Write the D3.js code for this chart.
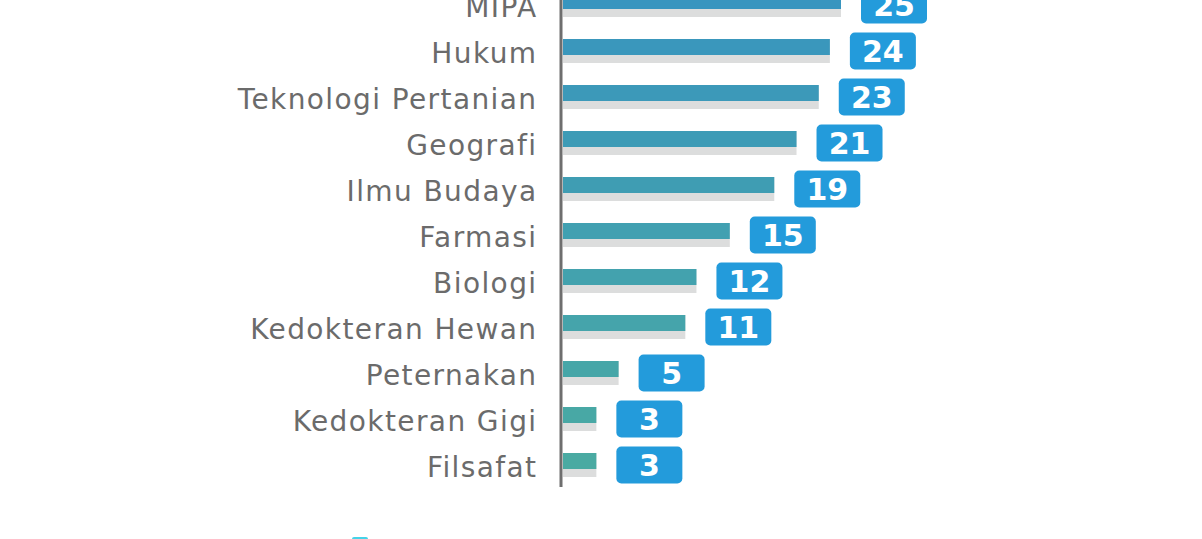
<!DOCTYPE html>
<html>
<head>
<meta charset="utf-8">
<script src="https://cdn.jsdelivr.net/npm/d3@7"></script>
<style>
  body { margin: 0; background: #fff; }
  svg { display: block; }
  .label { font-family: "DejaVu Sans", sans-serif; fill: #6b6b6b; letter-spacing: 1.4px; }
  .badgeText { font-family: "DejaVu Sans", sans-serif; font-weight: 700; fill: #fff; }
</style>
</head>
<body>
<div id="chart"></div>
<script>
// faculties, top to bottom (the top of the chart is cropped)
var faculties = ["MIPA", "Hukum", "Teknologi Pertanian", "Geografi", "Ilmu Budaya",
    "Farmasi", "Biologi", "Kedokteran Hewan", "Peternakan", "Kedokteran Gigi", "Filsafat"];
var counts = [25, 24, 23, 21, 19, 15, 12, 11, 5, 3, 3];

var width = 1202, height = 539;
var axisX = 561;

var svg = d3.select("#chart").append("svg")
    .attr("width", width)
    .attr("height", height);

// x scale: value -> pixel, bars start right of the axis line
var x = d3.scaleLinear().domain([0, 25]).range([563, 841]);

// y scale: one band per faculty, 46px per row, first row partly above the frame
var y = d3.scaleBand().domain(faculties).range([-7, -7 + faculties.length * 46]);

var barColor = d3.scaleLinear()
    .domain([0, faculties.length - 1])
    .range(["#3895bf", "#4aaaa2"])
    .interpolate(d3.interpolateRgb);

var rows = svg.selectAll("g.row")
    .data(faculties.map(function(f, i){ return {name: f, value: counts[i], i: i}; }))
    .enter().append("g")
    .attr("class", "row");

// gray shadow under each bar
rows.append("rect")
    .attr("x", x(0))
    .attr("y", function(d){ return y(d.name); })
    .attr("width", function(d){ return x(d.value) - x(0); })
    .attr("height", 24)
    .style("fill", "#dcdddd");

// main bar
rows.append("rect")
    .attr("x", x(0))
    .attr("y", function(d){ return y(d.name); })
    .attr("width", function(d){ return x(d.value) - x(0); })
    .attr("height", 16)
    .style("fill", function(d){ return barColor(d.i); });

// category labels (letter-spacing leaves a trailing gap, so nudge x right)
rows.append("text")
    .attr("class", "label")
    .attr("x", 537.5)
    .attr("y", function(d){ return y(d.name) + 24; })
    .attr("text-anchor", "end")
    .style("font-size", "28px")
    .text(function(d){ return d.name; });

// value badges
rows.append("rect")
    .attr("x", function(d){ return x(d.value) + 20; })
    .attr("y", function(d){ return y(d.name) - 6.5; })
    .attr("width", 66)
    .attr("height", 37)
    .attr("rx", 5)
    .style("fill", "#239bdb");

rows.append("text")
    .attr("class", "badgeText")
    .attr("x", function(d){ return x(d.value) + 53; })
    .attr("y", function(d){ return y(d.name) + 23; })
    .attr("text-anchor", "middle")
    .style("font-size", "30px")
    .text(function(d){ return d.value; });

// vertical axis line
svg.append("line")
    .attr("x1", axisX).attr("x2", axisX)
    .attr("y1", 0).attr("y2", 487)
    .style("stroke", "#6e6e6e")
    .style("stroke-width", 3);

// legend swatch, cut off at the bottom edge
svg.append("rect")
    .attr("x", 352)
    .attr("y", 537)
    .attr("width", 16)
    .attr("height", 10)
    .attr("rx", 2)
    .style("fill", "#45d3e8");
</script>
</body>
</html>
